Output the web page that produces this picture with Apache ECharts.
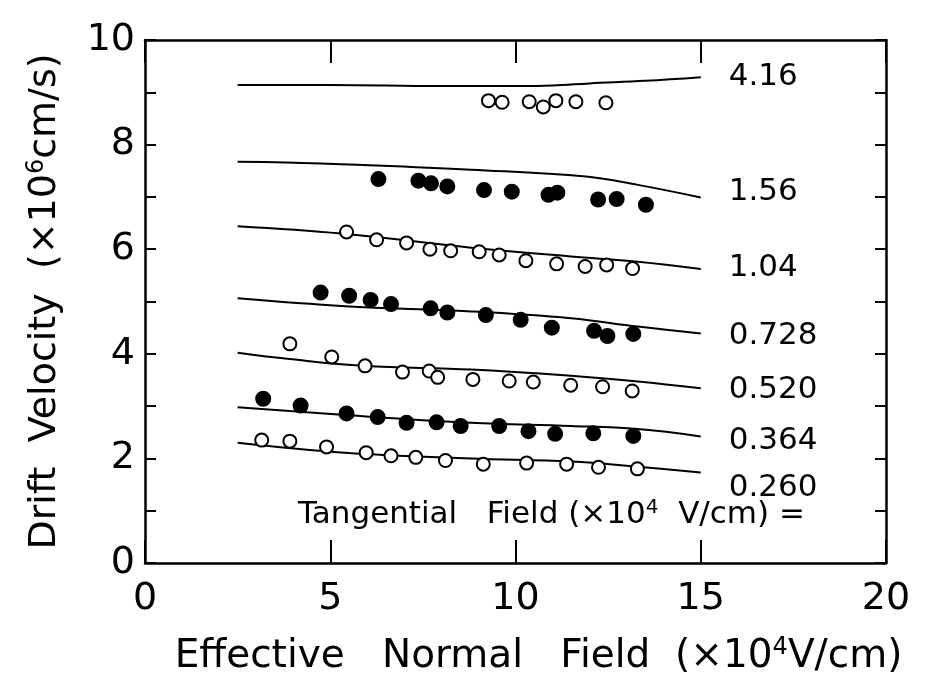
<!DOCTYPE html>
<html>
<head>
<meta charset="utf-8">
<script src="https://cdn.jsdelivr.net/npm/echarts@6/dist/echarts.min.js"></script>
<style>
    html, body { margin: 0; padding: 0; background: #fff; }
    #chart { width: 930px; height: 683px; }
</style>
</head>
<body>
<div id="chart"></div>
<script>
    // curve labels (tangential field, x10^4 V/cm)
    var fieldNames = ['4.16', '1.56', '1.04', '0.728', '0.520', '0.364', '0.260'];

    // calculated curves
    var c416x = [2.5, 5, 8, 10, 11, 12, 13.5, 15];
    var c416y = [9.14, 9.14, 9.12, 9.12, 9.13, 9.17, 9.22, 9.29];
    var c156x = [2.5, 3.8, 5.9, 8.8, 11.9, 13.3, 15];
    var c156y = [7.67, 7.66, 7.61, 7.52, 7.39, 7.23, 6.99];
    var c104x = [2.5, 5.3, 8.8, 11.5, 13.3, 15];
    var c104y = [6.44, 6.30, 6.03, 5.86, 5.76, 5.62];
    var c0728x = [2.5, 5.4, 8.8, 11.5, 13.3, 15];
    var c0728y = [5.06, 4.91, 4.81, 4.68, 4.52, 4.39];
    var c0520x = [2.5, 3.9, 5.9, 8.8, 11.5, 13.3, 15];
    var c0520y = [4.02, 3.90, 3.77, 3.70, 3.58, 3.47, 3.34];
    var c0364x = [2.5, 5.4, 8.8, 11.5, 13.3, 15];
    var c0364y = [2.98, 2.83, 2.68, 2.62, 2.56, 2.42];
    var c0260x = [2.5, 5.4, 8.8, 11.5, 13.3, 15];
    var c0260y = [2.30, 2.11, 2.00, 1.94, 1.84, 1.73];

    // measured points
    var p416x = [9.27, 9.64, 10.37, 10.75, 11.09, 11.63, 12.44];
    var p416y = [8.84, 8.81, 8.82, 8.72, 8.84, 8.82, 8.80];
    var p156x = [6.30, 7.38, 7.72, 8.16, 9.15, 9.90, 10.89, 11.13, 12.23, 12.73, 13.52];
    var p156y = [7.34, 7.31, 7.26, 7.20, 7.13, 7.10, 7.04, 7.08, 6.95, 6.96, 6.85];
    var p104x = [5.44, 6.25, 7.06, 7.69, 8.25, 9.02, 9.56, 10.28, 11.11, 11.88, 12.46, 13.16];
    var p104y = [6.33, 6.18, 6.12, 6.00, 5.97, 5.95, 5.89, 5.78, 5.72, 5.67, 5.70, 5.63];
    var p0728x = [4.74, 5.51, 6.09, 6.64, 7.71, 8.16, 9.20, 10.14, 10.98, 12.12, 12.48, 13.18];
    var p0728y = [5.17, 5.11, 5.03, 4.95, 4.87, 4.79, 4.74, 4.65, 4.50, 4.44, 4.34, 4.38];
    var p0520x = [3.91, 5.04, 5.94, 6.95, 7.67, 7.90, 8.85, 9.83, 10.48, 11.49, 12.35, 13.15];
    var p0520y = [4.19, 3.94, 3.77, 3.65, 3.67, 3.55, 3.51, 3.48, 3.46, 3.40, 3.37, 3.29];
    var p0364x = [3.19, 4.20, 5.44, 6.28, 7.06, 7.87, 8.52, 9.56, 10.35, 11.07, 12.10, 13.18];
    var p0364y = [3.14, 3.01, 2.86, 2.79, 2.68, 2.69, 2.62, 2.62, 2.52, 2.47, 2.48, 2.43];
    var p0260x = [3.15, 3.91, 4.90, 5.97, 6.64, 7.31, 8.11, 9.13, 10.30, 11.38, 12.24, 13.29];
    var p0260y = [2.35, 2.33, 2.22, 2.11, 2.05, 2.02, 1.96, 1.89, 1.91, 1.89, 1.83, 1.80];

    var xTicks = [0, 5, 10, 15, 20];
    var yTicks = [0, 2, 4, 6, 8, 10];

    var curves = [
        [c416x, c416y], [c156x, c156y], [c104x, c104y], [c0728x, c0728y],
        [c0520x, c0520y], [c0364x, c0364y], [c0260x, c0260y]
    ];
    var points = [
        [p416x, p416y, false], [p156x, p156y, true], [p104x, p104y, false], [p0728x, p0728y, true],
        [p0520x, p0520y, false], [p0364x, p0364y, true], [p0260x, p0260y, false]
    ];
    // vertical nudge of each curve label
    var labelDy = [0, -5, -1, 3, 2, 5, 15];

    function zip(xs, ys) {
        var out = [];
        for (var i = 0; i < xs.length; i++) out.push([xs[i], ys[i]]);
        return out;
    }

    var font = 'DejaVu Sans';
    var series = [];
    curves.forEach(function (c, i) {
        series.push({
            type: 'line',
            name: fieldNames[i],
            data: zip(c[0], c[1]),
            smooth: 0.4,
            showSymbol: false,
            symbol: 'none',
            lineStyle: {color: '#000', width: 2},
            endLabel: {
                show: true,
                formatter: '{a}',
                distance: 28,
                offset: [0, labelDy[i]],
                fontFamily: font,
                fontSize: 31,
                color: '#000'
            },
            z: 2
        });
    });
    points.forEach(function (p, i) {
        series.push({
            type: 'scatter',
            name: 'pts' + fieldNames[i],
            data: zip(p[0], p[1]),
            symbol: 'circle',
            symbolSize: p[2] ? 14 : 13,
            itemStyle: {
                color: p[2] ? '#000' : '#fff',
                borderColor: '#000',
                borderWidth: 2,
                opacity: 1
            },
            z: 3
        });
    });

    var chart = echarts.init(document.getElementById('chart'));
    var axisLine = {onZero: false, lineStyle: {color: '#000', width: 2.5}};
    var option = {
        animation: false,
        backgroundColor: '#fff',
        grid: {left: 145, right: 44, top: 40, bottom: 120},
        xAxis: [{
            type: 'value', min: 0, max: 20, interval: 5,
            position: 'bottom',
            name: 'Effective   Normal   Field  (×10{s|4}V/cm)',
            nameLocation: 'middle',
            nameGap: 73,
            nameTextStyle: {
                fontFamily: font, fontSize: 39, color: '#000',
                padding: [0, 0, 0, 46],
                rich: {s: {fontFamily: font, fontSize: 24, color: '#000', padding: [0, 0, 17, 0]}}
            },
            axisLine: axisLine,
            axisTick: {inside: true, length: 23, lineStyle: {color: '#000', width: 2}},
            axisLabel: {
                fontFamily: font, fontSize: 38, color: '#000', margin: 17,
                formatter: function (v) { return xTicks.indexOf(v) >= 0 ? String(v) : ''; }
            },
            splitLine: {show: false}
        }, {
            type: 'value', min: 0, max: 20, interval: 5,
            position: 'top',
            axisLine: axisLine,
            axisTick: {inside: true, length: 23, lineStyle: {color: '#000', width: 2}},
            axisLabel: {show: false},
            splitLine: {show: false}
        }],
        yAxis: [{
            type: 'value', min: 0, max: 10, interval: 1,
            position: 'left',
            name: 'Drift  Velocity  (×10{s|6}cm/s)',
            nameLocation: 'middle',
            nameGap: 80,
            nameTextStyle: {
                fontFamily: font, fontSize: 38, color: '#000',
                rich: {s: {fontFamily: font, fontSize: 24, color: '#000', padding: [0, 0, 16, 0]}}
            },
            axisLine: axisLine,
            axisTick: {inside: true, length: 11, lineStyle: {color: '#000', width: 2}},
            axisLabel: {
                fontFamily: font, fontSize: 38, color: '#000', margin: 10,
                formatter: function (v) { return yTicks.indexOf(v) >= 0 ? String(v) : ''; }
            },
            splitLine: {show: false}
        }, {
            type: 'value', min: 0, max: 10, interval: 1,
            position: 'right',
            axisLine: axisLine,
            axisTick: {inside: true, length: 11, lineStyle: {color: '#000', width: 2}},
            axisLabel: {show: false},
            splitLine: {show: false}
        }],
        graphic: [{
            type: 'text',
            left: 298,
            top: 498,
            style: {
                text: 'Tangential   Field (×10{s|4}  V/cm) =',
                fontFamily: font,
                fontSize: 31,
                fill: '#000',
                rich: {s: {fontFamily: font, fontSize: 20, fill: '#000', padding: [0, 0, 14, 0]}}
            }
        }],
        series: series
    };
    chart.setOption(option);
</script>
</body>
</html>
